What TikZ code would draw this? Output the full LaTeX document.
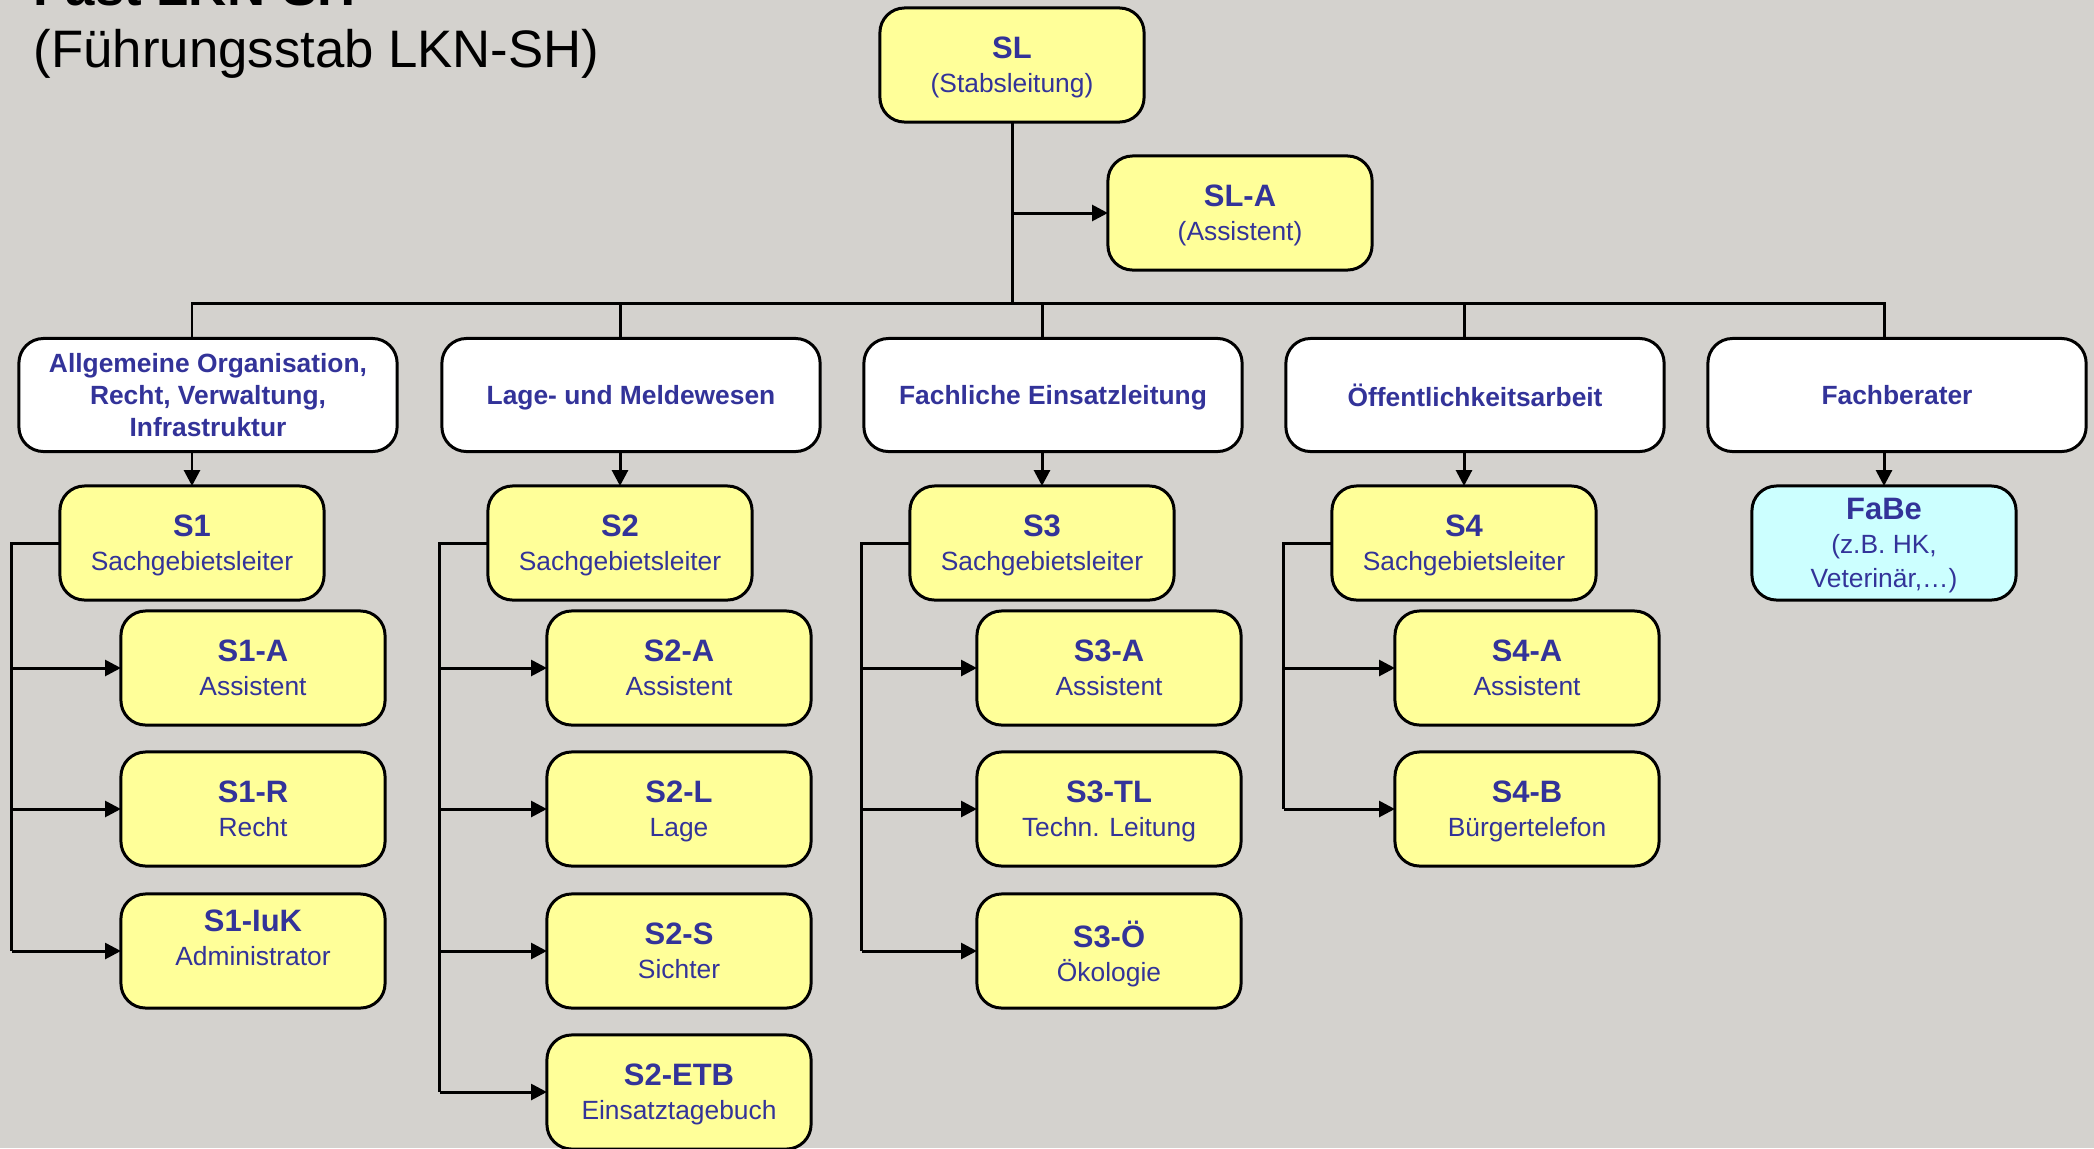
\documentclass[tikz,border=0pt]{standalone}
\usepackage{fontspec}
\setmainfont{Liberation Sans}
\usetikzlibrary{arrows.meta}

\definecolor{hgrund}{RGB}{212,210,206}
\definecolor{stabblau}{RGB}{51,51,153}
\definecolor{gelb}{RGB}{255,255,153}
\definecolor{hellcyan}{RGB}{204,255,255}

\tikzset{
  kasten/.style={draw, line width=0.85pt, rounded corners=7pt, text=stabblau, align=center,
    inner sep=0pt, outer sep=0pt, minimum width=2.64cm, minimum height=1.14cm,
    text depth=0pt, font=\fontsize{7.5pt}{9.6pt}\selectfont},
  sgkasten/.style={kasten, fill=gelb},
  kopfkasten/.style={kasten, fill=white, minimum width=3.78cm, minimum height=1.13cm,
    font=\fontsize{7.5pt}{9pt}\selectfont\bfseries},
  linie/.style={line width=0.85pt},
  pfeil/.style={linie, -{Triangle[length=4.5pt,width=4.5pt]}}
}
\newcommand{\kurz}{\fontsize{8.8pt}{9.6pt}\selectfont\bfseries}

\begin{document}
\begin{tikzpicture}[x=0.01cm, y=-0.01cm]

% Hintergrund
\fill[hgrund] (0,0) rectangle (2094,1148);
\useasboundingbox (0,0) rectangle (2094,1148);

% Titel
\node[anchor=base west, inner sep=0pt, font=\fontsize{15pt}{18pt}\selectfont\bfseries] (titel) at (33,5) {Fast LKN-SH};
\node[anchor=base west, inner sep=0pt, font=\fontsize{15pt}{18pt}\selectfont] (untertitel) at (33,67) {(Führungsstab LKN-SH)};

% Stabsleitung
\node[sgkasten] (sl) at (1012,65) {{\kurz SL}\\(Stabsleitung)};
\node[sgkasten] (sla) at (1240,213) {{\kurz SL-A}\\(Assistent)};

% Sachgebiete
\node[kopfkasten] (k1) at (208,395) {Allgemeine Organisation,\\Recht, Verwaltung,\\Infrastruktur};
\node[kopfkasten] (k2) at (631,395) {Lage- und Meldewesen};
\node[kopfkasten] (k3) at (1053,395) {Fachliche Einsatzleitung};
\node[kopfkasten] (k4) at (1475,395) {Öffentlichkeitsarbeit};
\node[kopfkasten] (k5) at (1897,395) {Fachberater};

% Sachgebietsleiter
\node[sgkasten] (s1) at (192,543) {{\kurz S1}\\Sachgebietsleiter};
\node[sgkasten] (s2) at (620,543) {{\kurz S2}\\Sachgebietsleiter};
\node[sgkasten] (s3) at (1042,543) {{\kurz S3}\\Sachgebietsleiter};
\node[sgkasten] (s4) at (1464,543) {{\kurz S4}\\Sachgebietsleiter};
\node[sgkasten, fill=hellcyan] (fabe) at (1884,543) {{\kurz FaBe}\\(z.B. HK,\\Veterinär,…)};

% S1
\node[sgkasten] (s1a) at (253,668) {{\kurz S1-A}\\Assistent};
\node[sgkasten] (s1r) at (253,809) {{\kurz S1-R}\\Recht};
\node[sgkasten, text depth=7.4pt] (s1iuk) at (253,951) {{\kurz S1-IuK}\\Administrator};

% S2
\node[sgkasten] (s2a) at (679,668) {{\kurz S2-A}\\Assistent};
\node[sgkasten] (s2l) at (679,809) {{\kurz S2-L}\\Lage};
\node[sgkasten] (s2s) at (679,951) {{\kurz S2-S}\\Sichter};
\node[sgkasten] (s2etb) at (679,1092) {{\kurz S2-ETB}\\Einsatztagebuch};

% S3
\node[sgkasten] (s3a) at (1109,668) {{\kurz S3-A}\\Assistent};
\node[sgkasten] (s3tl) at (1109,809) {{\kurz S3-TL}\\Techn. Leitung};
\node[sgkasten] (s3oe) at (1109,951) {{\kurz S3-Ö}\\Ökologie};

% S4
\node[sgkasten] (s4a) at (1527,668) {{\kurz S4-A}\\Assistent};
\node[sgkasten] (s4b) at (1527,809) {{\kurz S4-B}\\Bürgertelefon};

% Leitungslinien
\coordinate (schiene) at (1012,303);
\draw[linie] (sl.south) -- (schiene);
\draw[pfeil] (sl.south |- sla.west) -- (sla.west);
\draw[linie, line cap=rect] (s1 |- schiene) -- (fabe |- schiene);
\foreach \s/\k in {s1/k1, s2/k2, s3/k3, s4/k4, fabe/k5}
{
\draw[linie] (\s |- schiene) -- (\s |- \k.north);
\draw[pfeil] (\s |- \k.south) -- (\s.north);
}

% Zweige
\coordinate (a1) at ([xshift=-0.48cm]s1.west);
\draw[linie] (s1.west) -- (a1) -- (a1 |- s1iuk);
\foreach \z in {s1a,s1r,s1iuk}
\draw[pfeil] (a1 |- \z) -- (\z.west);

\coordinate (a2) at ([xshift=-0.48cm]s2.west);
\draw[linie] (s2.west) -- (a2) -- (a2 |- s2etb);
\foreach \z in {s2a,s2l,s2s,s2etb}
\draw[pfeil] (a2 |- \z) -- (\z.west);

\coordinate (a3) at ([xshift=-0.48cm]s3.west);
\draw[linie] (s3.west) -- (a3) -- (a3 |- s3oe);
\foreach \z in {s3a,s3tl,s3oe}
\draw[pfeil] (a3 |- \z) -- (\z.west);

\coordinate (a4) at ([xshift=-0.48cm]s4.west);
\draw[linie] (s4.west) -- (a4) -- (a4 |- s4b);
\foreach \z in {s4a,s4b}
\draw[pfeil] (a4 |- \z) -- (\z.west);

\end{tikzpicture}
\end{document}
